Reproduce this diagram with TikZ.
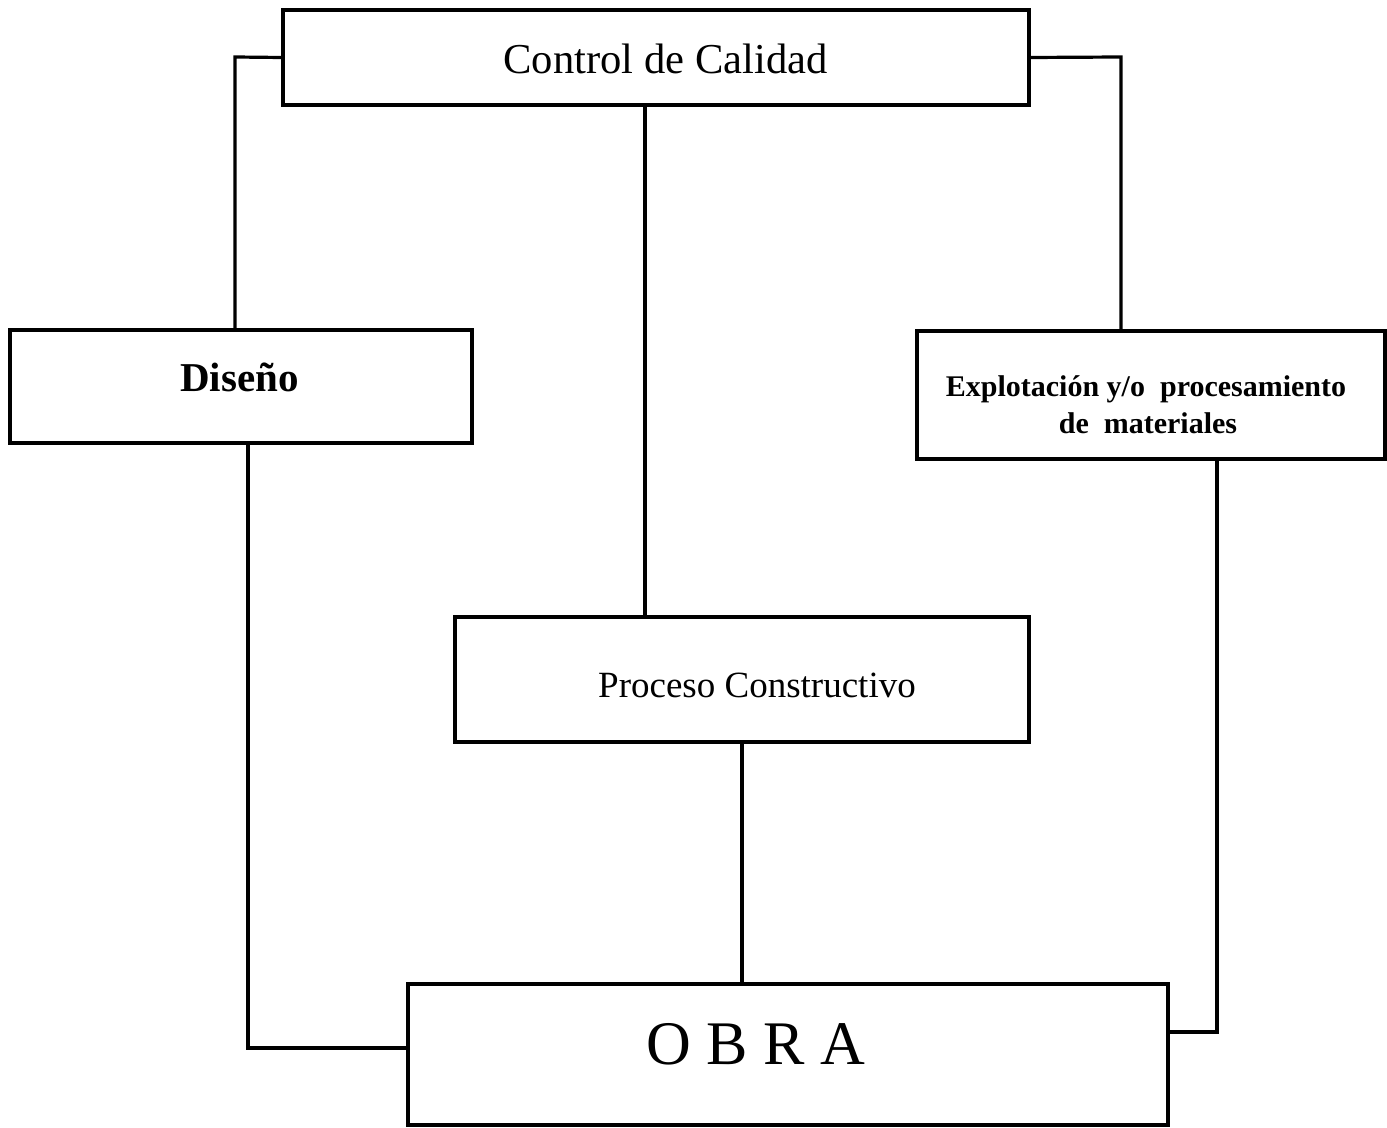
\documentclass[tikz,border=0pt]{standalone}
\usepackage{fontspec}
\setmainfont{Liberation Serif}
\begin{document}
\begin{tikzpicture}[x=0.5pt,y=-0.5pt,
  box/.style={draw=black,line width=1.6pt,rectangle,inner sep=0pt,fill=white},
  conn/.style={draw=black,line width=1.6pt},
  lbl/.style={anchor=base,inner sep=0pt}]
\useasboundingbox[fill=white] (0,0) rectangle (1387,1128);

% boxes
\node[box,minimum width=373pt,minimum height=47.5pt] (ctrl) at (656,57.5) {};
\node[box,minimum width=231pt,minimum height=56.5pt] (dis)  at (241,386.5) {};
\node[box,minimum width=234pt,minimum height=64pt]   (exp)  at (1151,395) {};
\node[box,minimum width=287pt,minimum height=62.5pt] (proc) at (742,679.5) {};
\node[box,minimum width=380pt,minimum height=70.5pt] (obra) at (788,1054.5) {};

% labels
\node[lbl,font=\fontsize{21.3pt}{25pt}\selectfont] (ctrltxt) at (665.5,74) {Control de Calidad};
\node[lbl,font=\fontsize{20.5pt}{24pt}\selectfont\bfseries] (distxt) at (239.5,392) {Diseño};
\node[lbl,font=\fontsize{15pt}{18pt}\selectfont\bfseries] (exptxta) at (1146,397) {Explotación y/o\ \ procesamiento};
\node[lbl,font=\fontsize{15pt}{18pt}\selectfont\bfseries] (exptxtb) at (1148,434) {de\ \ materiales};
\node[lbl,font=\fontsize{18.5pt}{22pt}\selectfont] (proctxt) at (757,697) {Proceso Constructivo};
\node[lbl,font=\fontsize{31pt}{36pt}\selectfont] (obratxt) at (755.5,1064) {O B R A};

% junction points of the connectors
\coordinate (jl) at (235,57);
\coordinate (jr) at (1121,57);
\coordinate (jc) at (645,0);
\coordinate (jd) at (248,1048);
\coordinate (je) at (1217,1032);

% connectors
\draw[conn] (ctrl.west) -- (jl) -- (jl |- dis.north);
\draw[conn] (ctrl.east) -- (jr) -- (jr |- exp.north);
\draw[conn] (jc |- ctrl.south) -- (jc |- proc.north);
\draw[conn] (jd |- dis.south) -- (jd) -- (jd -| obra.west);
\draw[conn] (proc.south) -- (proc.south |- obra.north);
\draw[conn] (je |- exp.south) -- (je) -- (je -| obra.east);
\end{tikzpicture}
\end{document}
